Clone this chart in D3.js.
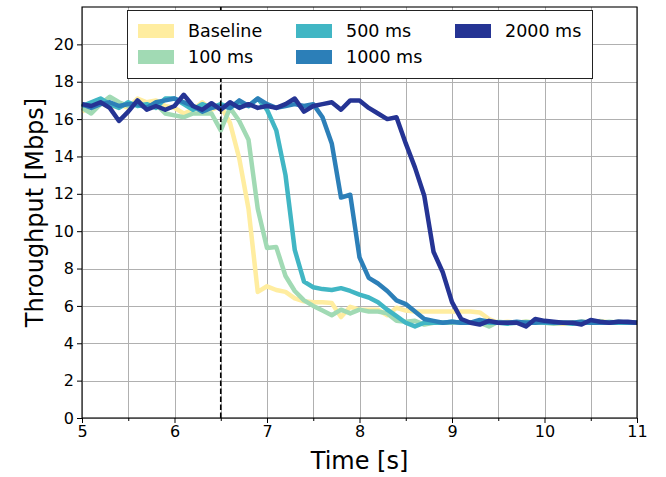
<!DOCTYPE html>
<html>
<head>
<meta charset="utf-8">
<script src="https://cdn.jsdelivr.net/npm/d3@7"></script>
<style>
  body { margin: 0; background: #fff; }
  svg { display: block; }
  text { font-family: "DejaVu Sans", sans-serif; fill: #000; }
</style>
</head>
<body>
<svg id="chart" width="666" height="477"></svg>
<script>
// Sample times (s)
const times = [
  5.0, 5.1, 5.2, 5.3, 5.4, 5.5, 5.6, 5.7, 5.8, 5.9,
  6.0, 6.1, 6.2, 6.3, 6.4, 6.5, 6.6, 6.7, 6.8, 6.9,
  7.0, 7.1, 7.2, 7.3, 7.4, 7.5, 7.6, 7.7, 7.8, 7.9,
  8.0, 8.1, 8.2, 8.3, 8.4, 8.5, 8.6, 8.7, 8.8, 8.9,
  9.0, 9.1, 9.2, 9.3, 9.4, 9.5, 9.6, 9.7, 9.8, 9.9,
  10.0, 10.1, 10.2, 10.3, 10.4, 10.5, 10.6, 10.7, 10.8, 10.9,
  11.0
];

// Throughput per configuration (Mbps)
const baseline = [
  16.4, 16.7, 16.9, 16.6, 16.8, 16.6, 17.1, 16.9, 17.0, 16.7,
  16.6, 16.3, 16.5, 16.9, 16.5, 16.7, 15.8, 13.9, 11.2, 6.75,
  7.05, 6.85, 6.75, 6.4, 6.25, 6.2, 6.2, 6.15, 5.4, 5.95,
  5.8, 5.8, 5.8, 5.5, 5.9, 5.75, 5.7, 5.7, 5.7, 5.7,
  5.7, 5.7, 5.7, 5.65, 5.3, 5.1, 5.15, 5.1, 5.15, 5.1,
  5.15, 5.1, 5.05, 5.1, 5.15, 5.1, 5.2, 5.1, 5.15, 5.1,
  5.1
];
const delay100 = [
  16.6, 16.3, 16.8, 17.2, 16.9, 16.7, 16.9, 16.7, 16.8, 16.3,
  16.2, 16.1, 16.3, 16.3, 16.3, 15.4, 16.6, 15.9, 14.9, 11.2,
  9.1, 9.15, 7.6, 6.8, 6.3, 6.0, 5.75, 5.5, 5.8, 5.6,
  5.8, 5.7, 5.7, 5.6, 5.2, 5.15, 5.2, 5.0, 5.1, 5.1,
  5.1, 5.15, 5.1, 5.1, 4.9, 5.15, 5.1, 5.1, 5.15, 5.1,
  5.1, 5.05, 5.1, 5.1, 5.15, 5.1, 5.1, 5.15, 5.1, 5.1,
  5.1
];
const delay500 = [
  16.7, 16.9, 17.1, 16.8, 16.6, 16.9, 16.7, 16.8, 16.6, 17.1,
  17.1, 16.8, 16.5, 16.8, 16.6, 16.8, 16.6, 16.9, 16.7, 17.1,
  16.5, 15.4, 13.0, 9.0, 7.3, 7.0, 6.9, 6.85, 6.95, 6.8,
  6.6, 6.45, 6.2, 5.8, 5.45, 5.1, 4.9, 5.1, 5.1, 5.1,
  5.15, 5.1, 5.1, 5.15, 5.1, 5.1, 5.05, 5.1, 5.1, 5.15,
  5.1, 5.1, 5.1, 5.05, 5.1, 5.1, 5.15, 5.1, 5.1, 5.1,
  5.1
];
const delay1000 = [
  16.8, 16.6, 16.8, 16.9, 16.7, 16.8, 16.8, 16.6, 16.9, 17.0,
  17.1, 16.9, 16.7, 16.4, 16.6, 16.7, 16.6, 17.0, 16.7, 17.1,
  16.8, 16.6, 16.7, 16.8, 16.7, 16.8, 16.1, 14.7, 11.8, 11.95,
  8.6, 7.5, 7.2, 6.8, 6.3, 6.1, 5.7, 5.3, 5.2, 5.1,
  5.15, 5.1, 5.1, 5.25, 5.15, 5.1, 5.1, 5.15, 5.1, 5.1,
  5.15, 5.1, 5.1, 5.1, 5.15, 5.1, 5.1, 5.1, 5.15, 5.1,
  5.1
];
const delay2000 = [
  16.8, 16.7, 16.9, 16.6, 15.9, 16.4, 17.0, 16.5, 16.7, 16.5,
  16.7, 17.3, 16.7, 16.5, 16.85, 16.5, 16.9, 16.6, 16.8, 16.6,
  16.7, 16.6, 16.8, 17.1, 16.4, 16.7, 16.8, 16.9, 16.5, 17.0,
  17.0, 16.6, 16.3, 16.0, 16.1, 14.7, 13.4, 11.9, 8.9, 7.8,
  6.2, 5.3, 5.1, 5.0, 5.2, 5.1, 5.1, 5.1, 4.9, 5.3,
  5.2, 5.15, 5.1, 5.1, 5.0, 5.25, 5.15, 5.1, 5.15, 5.15,
  5.1
];

const seriesNames = ["Baseline", "100 ms", "500 ms", "1000 ms", "2000 ms"];
const seriesValues = [baseline, delay100, delay500, delay1000, delay2000];
const seriesColors = ["#ffeda0", "#a1dab4", "#41b6c4", "#2c7fb8", "#253494"];

const xTicks = [5, 6, 7, 8, 9, 10, 11];
const xMinorTicks = [5.5, 6.5, 7.5, 8.5, 9.5, 10.5];
const yTicks = [0, 2, 4, 6, 8, 10, 12, 14, 16, 18, 20];
const switchTime = 6.5;

const svg = d3.select("#chart");
const plotLeft = 82, plotRight = 637, plotTop = 7, plotBottom = 418;

const x = d3.scaleLinear().domain([5, 11]).range([plotLeft, plotRight]);
const y = d3.scaleLinear().domain([0, 22]).range([plotBottom, plotTop]);

// Grid: vertical at every half second, horizontal at labelled ticks
const grid = svg.append("g").attr("stroke", "#b0b0b0").attr("stroke-width", 1);
grid.selectAll("line.gx")
  .data(xTicks.concat(xMinorTicks))
  .join("line")
  .attr("x1", d => Math.round(x(d)) + 0.5).attr("x2", d => Math.round(x(d)) + 0.5)
  .attr("y1", plotTop).attr("y2", plotBottom);
grid.selectAll("line.gy")
  .data(yTicks)
  .join("line")
  .attr("y1", d => Math.round(y(d)) + 0.5).attr("y2", d => Math.round(y(d)) + 0.5)
  .attr("x1", plotLeft).attr("x2", plotRight);

// Throughput lines
const line = d3.line()
  .x((d, i) => x(times[i]))
  .y(d => y(d));

const plot = svg.append("g");
seriesValues.forEach((vals, k) => {
  plot.append("path")
    .datum(vals)
    .attr("d", line)
    .attr("fill", "none")
    .attr("stroke", seriesColors[k])
    .attr("stroke-width", 4.5)
    .attr("stroke-linejoin", "round")
    .attr("stroke-linecap", "butt");
});

// Moment of the delay change
svg.append("line")
  .attr("x1", x(switchTime)).attr("x2", x(switchTime))
  .attr("y1", y(0)).attr("y2", plotTop)
  .attr("stroke", "#000")
  .attr("stroke-width", 1.6)
  .attr("stroke-dasharray", "5.5,2.5");

// Axes
const xAxis = d3.axisBottom(x).tickValues(xTicks).tickFormat(d3.format("d"))
  .tickSize(5).tickPadding(3);
const xMinor = d3.axisBottom(x).tickValues(xMinorTicks).tickFormat("").tickSize(3);
const yAxis = d3.axisLeft(y).tickValues(yTicks).tickFormat(d3.format("d"))
  .tickSize(5).tickPadding(3);

const gx = svg.append("g").attr("transform", `translate(0,${plotBottom})`).call(xAxis);
const gxm = svg.append("g").attr("transform", `translate(0,${plotBottom})`).call(xMinor);
const gy = svg.append("g").attr("transform", `translate(${plotLeft},0)`).call(yAxis);
[gx, gxm, gy].forEach(g => {
  g.select(".domain").remove();
  g.selectAll(".tick line").attr("stroke", "#000").attr("stroke-width", 1);
  g.selectAll(".tick text")
    .attr("font-family", "DejaVu Sans, sans-serif")
    .attr("font-size", 16)
    .attr("fill", "#000");
});

// Frame
svg.append("rect")
  .attr("x", plotLeft).attr("y", plotTop)
  .attr("width", plotRight - plotLeft).attr("height", plotBottom - plotTop)
  .attr("fill", "none").attr("stroke", "#000").attr("stroke-width", 1.1);

// Axis titles
svg.append("text")
  .attr("x", (plotLeft + plotRight) / 2).attr("y", 469)
  .attr("text-anchor", "middle")
  .attr("font-size", 24)
  .text("Time [s]");
svg.append("text")
  .attr("transform", `translate(43,${(plotTop + plotBottom) / 2}) rotate(-90)`)
  .attr("text-anchor", "middle")
  .attr("font-size", 24)
  .text("Throughput [Mbps]");

// Legend
const legend = svg.append("g");
legend.append("rect")
  .attr("x", 127.5).attr("y", 10.5)
  .attr("width", 465).attr("height", 68)
  .attr("fill", "#fff").attr("stroke", "#222").attr("stroke-width", 1);
const colX = [138, 296, 455];
const rowY = [31, 57];
seriesNames.forEach((name, k) => {
  const cx = colX[Math.floor(k / 2)];
  const cy = rowY[k % 2];
  legend.append("rect")
    .attr("x", cx).attr("y", cy - 7)
    .attr("width", 36).attr("height", 14)
    .attr("fill", seriesColors[k]);
  legend.append("text")
    .attr("x", cx + 50).attr("y", cy + 6)
    .attr("font-size", 17.5)
    .text(name);
});
</script>
</body>
</html>
